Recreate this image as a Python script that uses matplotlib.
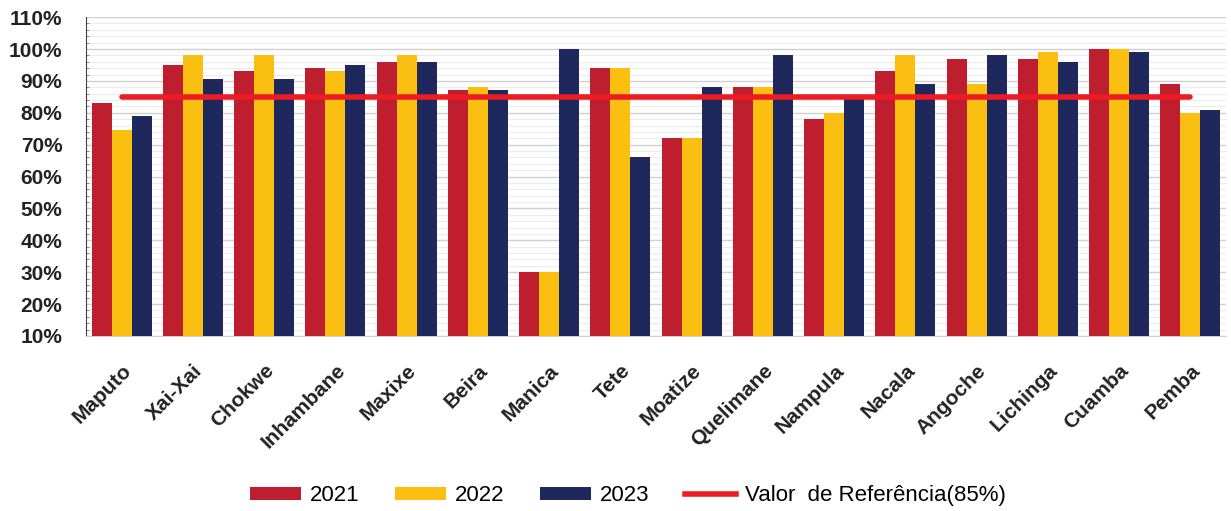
import matplotlib
matplotlib.use("Agg")
import matplotlib.pyplot as plt
import numpy as np
from matplotlib.ticker import MultipleLocator, FuncFormatter
from matplotlib.patches import Patch
from matplotlib.lines import Line2D

categories = ["Maputo", "Xai-Xai", "Chokwe", "Inhambane", "Maxixe", "Beira", "Manica",
              "Tete", "Moatize", "Quelimane", "Nampula", "Nacala", "Angoche", "Lichinga",
              "Cuamba", "Pemba"]
v2021 = [83, 95, 93, 94, 96, 87, 30, 94, 72, 88, 78, 93, 97, 97, 100, 89]
v2022 = [74.5, 98, 98, 93, 98, 88, 30, 94, 72, 88, 80, 98, 89, 99, 100, 80]
v2023 = [79, 90.5, 90.5, 95, 96, 87, 100, 66, 88, 98, 85, 89, 98, 96, 99, 81]
reference = 85
series_labels = ["2021", "2022", "2023"]
ref_label = "Valor  de Referência(85%)"

colors = ["#BE1E2D", "#FBBF12", "#1F285C"]
ref_color = "#ED1C24"

plt.rcParams['font.family'] = ['Liberation Sans', 'DejaVu Sans']

fig = plt.figure(figsize=(12.31, 5.11), dpi=100)
ax = fig.add_axes([0.0699, 0.3425, 0.926, 0.624])

x = np.arange(len(categories))
w = 0.28
for i, (vals, c) in enumerate(zip([v2021, v2022, v2023], colors)):
    ax.bar(x + (i - 1) * w, np.array(vals) - 10, bottom=10, width=w, color=c,
           edgecolor='none', zorder=3)

ax.plot([x[0], x[-1]], [reference, reference], color=ref_color, lw=4, zorder=4,
        solid_capstyle='round')

ax.set_xlim(-0.5, len(categories) - 0.5)
ax.set_ylim(10, 110)
ax.yaxis.set_major_locator(MultipleLocator(10))
ax.yaxis.set_minor_locator(MultipleLocator(2))
ax.yaxis.set_major_formatter(FuncFormatter(lambda v, p: f"{int(round(v))}%"))
ax.grid(axis='y', which='major', color='#D0D0D0', lw=1.0, zorder=0)
ax.grid(axis='y', which='minor', color='#ECECEC', lw=0.8, zorder=0)
ax.set_axisbelow(True)

for s in ['top', 'right']:
    ax.spines[s].set_visible(False)
ax.spines['left'].set_color('#404040')
ax.spines['left'].set_linewidth(0.8)
ax.spines['bottom'].set_color('#D0D0D0')
ax.tick_params(axis='y', which='major', length=0, labelsize=15, pad=17)
ax.tick_params(axis='y', which='minor', length=2, color='#808080', direction='in')
ax.tick_params(axis='x', length=0, labelsize=15, pad=18)
for lbl in ax.get_yticklabels():
    lbl.set_fontweight('bold')
    lbl.set_color('#222222')

ax.set_xticks(x)
ax.set_xticklabels(categories, rotation=45, ha='right', rotation_mode='anchor',
                   fontweight='bold', color='#222222')

handles = [Patch(facecolor=c, edgecolor='none') for c in colors] + \
          [Line2D([0], [0], color=ref_color, lw=4)]
fig.legend(handles, series_labels + [ref_label], loc='center', ncol=4,
           bbox_to_anchor=(0.51, 0.03), frameon=False, fontsize=16,
           handlelength=2.3, handleheight=0.5, columnspacing=1.6, handletextpad=0.4)

fig.savefig("out.png", dpi=100)
